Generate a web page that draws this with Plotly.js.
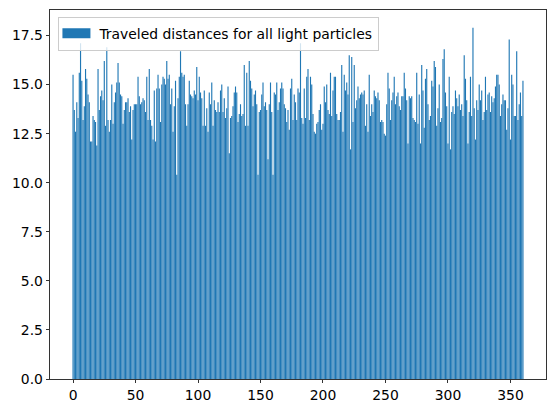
<!DOCTYPE html>
<html>
<head>
<meta charset="utf-8">
<script src="https://cdn.plot.ly/plotly-3.0.1.min.js"></script>
<style>
  html, body { margin: 0; padding: 0; background: #fff; }
  #chart { width: 556px; height: 413px; }
</style>
</head>
<body>
<div id="chart"></div>
<script>
// Traveled distance of each light particle (particles 0..360)
const distances000 = [
  15.5, 13.7, 12.6, 14.1, 13.3, 15.6, 17.1, 15.2, 13.2, 13.9,
  15.8, 15.3, 14.5, 14.1, 12.1, 12.1, 13.4, 13.2, 13.1, 11.9,
  15.8, 13.7, 14.4, 14.7, 14.2, 16.2, 12.9, 16.9, 13.2, 12.6,
  13.2, 15.0, 13.0, 14.1, 14.6, 15.1, 16.1, 15.1, 14.5, 14.4,
  13.0, 13.7, 14.1, 14.1, 14.3, 13.6, 13.9, 12.2, 13.7, 14.0,
  14.0, 14.0, 15.4, 14.4, 14.0, 14.1, 14.3, 14.2, 13.6
];
const distances059 = [
  15.4, 13.2, 15.8, 13.2, 12.9, 12.2, 14.7, 12.1, 14.8, 15.5,
  14.8, 13.1, 15.0, 15.4, 15.3, 15.0, 16.2, 15.3, 15.5, 14.0,
  14.8, 12.6, 13.9, 15.2, 10.4, 14.3, 15.4, 16.7, 15.6, 15.4,
  15.5, 14.0, 12.9, 14.0, 15.2, 14.5, 14.4, 14.3, 14.7, 14.5,
  15.9, 14.2, 15.4, 14.6, 14.3, 12.9, 14.7, 12.9, 13.8, 12.6,
  14.6, 14.0, 15.1, 12.9, 14.2, 13.7, 13.6, 14.1, 13.6, 14.7,
  15.0
];
const distances120 = [
  13.6, 14.3, 13.3, 13.8, 14.9, 11.5, 13.3, 13.4, 13.9, 14.6,
  14.9, 14.6, 13.1, 13.5, 14.0, 13.4, 13.5, 16.0, 12.9, 15.6,
  12.9, 16.2, 15.2, 14.8, 13.9, 14.5, 14.7, 14.0, 10.4, 13.6,
  13.7, 14.5, 15.1, 13.9, 14.1, 13.7, 11.2, 14.0, 15.1, 13.6,
  10.4, 14.6, 14.5, 15.1, 13.7, 14.1, 14.8, 15.1, 14.8, 14.0,
  13.8, 13.1, 13.7, 12.7, 14.8, 15.3, 13.2, 14.5, 14.1, 13.2
];
const distances180 = [
  14.8, 14.6, 17.1, 13.3, 13.0, 14.8, 13.3, 15.4, 15.8, 13.2,
  15.4, 15.0, 13.5, 12.6, 12.5, 13.0, 13.1, 13.7, 14.0, 12.7,
  13.0, 14.9, 14.1, 15.0, 13.7, 13.5, 15.6, 13.4, 14.7, 15.4,
  15.4, 13.5, 13.2, 13.2, 13.6, 16.0, 12.6, 15.5, 14.7, 15.1,
  14.5, 16.5, 11.7, 16.4, 13.1, 16.0, 13.8, 14.2, 14.9, 14.3,
  14.5, 14.6, 14.5, 14.7, 12.9, 14.0, 12.6, 15.5, 13.4, 14.0,
  13.6
];
const distances241 = [
  14.7, 14.4, 14.3, 14.6, 14.2, 13.1, 13.2, 13.1, 12.5, 12.4,
  14.0, 15.6, 14.8, 13.2, 14.2, 14.6, 15.4, 14.0, 14.4, 14.6,
  13.9, 13.7, 14.4, 14.4, 15.6, 14.8, 14.2, 12.0, 14.4, 14.3,
  14.4, 13.3, 13.2, 13.1, 15.6, 13.0, 14.5, 12.0, 16.0, 14.7,
  12.8, 15.3, 15.8, 14.0, 13.2, 13.4, 15.2, 14.9, 16.2, 15.9,
  12.9, 13.8, 15.0, 13.1, 13.3, 16.3, 16.8, 14.6, 13.9, 12.0,
  15.4
];
const distances302 = [
  11.7, 13.6, 13.9, 13.5, 14.7, 14.3, 13.9, 14.5, 13.7, 14.0,
  13.4, 16.5, 15.3, 14.2, 12.0, 13.6, 15.4, 13.4, 17.9, 13.8,
  12.2, 14.2, 13.7, 15.0, 14.2, 14.7, 13.2, 13.6, 15.4, 13.7,
  14.5, 14.6, 13.6, 14.4, 14.1, 14.3, 14.9, 15.5, 15.5, 15.0,
  13.4, 14.0, 14.5, 14.2, 14.2, 12.7, 13.8, 17.3, 12.2, 15.5,
  15.0, 13.4, 13.4, 16.7, 13.2, 14.0, 14.6, 13.4, 15.2
];

const xTicks = [0, 50, 100, 150, 200, 250, 300, 350];
const yTicks = [0, 2.5, 5, 7.5, 10, 12.5, 15, 17.5];
const seriesName = "Traveled distances for all light particles";

const distances = [].concat(distances000, distances059, distances120,
                            distances180, distances241, distances302);
const particleIds = distances.map((_, i) => i);

const barTrace = {
  type: 'bar',
  x: particleIds,
  y: distances,
  width: 0.9,
  name: seriesName,
  marker: { color: '#1f77b4', line: { width: 0 } },
  hoverinfo: 'skip'
};

// matplotlib-like axes box
const axisStyle = {
  ticks: 'outside',
  ticklen: 3.5,
  tickwidth: 0.8,
  tickcolor: '#000',
  showline: true,
  linecolor: '#000',
  linewidth: 0.8,
  mirror: true,
  showgrid: false,
  zeroline: false
};

const layout = {
  width: 556,
  height: 413,
  margin: { l: 50, r: 10, t: 10, b: 34, pad: 0 },
  paper_bgcolor: '#ffffff',
  plot_bgcolor: '#ffffff',
  font: { family: 'DejaVu Sans, sans-serif', size: 13.9, color: '#000' },
  showlegend: true,
  legend: {
    x: 0.017, y: 0.982, xanchor: 'left', yanchor: 'top',
    bgcolor: 'rgba(255,255,255,0.8)',
    bordercolor: '#cccccc',
    borderwidth: 1,
    font: { size: 13.9 }
  },
  xaxis: {
    ...axisStyle,
    range: [-18.44, 378.44],
    tickvals: xTicks,
    ticktext: xTicks.map(String)
  },
  yaxis: {
    ...axisStyle,
    range: [0, 18.8],
    tickvals: yTicks,
    ticktext: yTicks.map(v => v.toFixed(1))
  }
};

Plotly.newPlot('chart', [barTrace], layout, { displayModeBar: false, staticPlot: true })
  .then(gd => {
    // wide legend patch like matplotlib's
    gd.querySelectorAll('.legend .legendpoints path').forEach(p => {
      p.setAttribute('d', 'M11,5H-17V-5H11Z');
    });
  });
</script>
</body>
</html>
